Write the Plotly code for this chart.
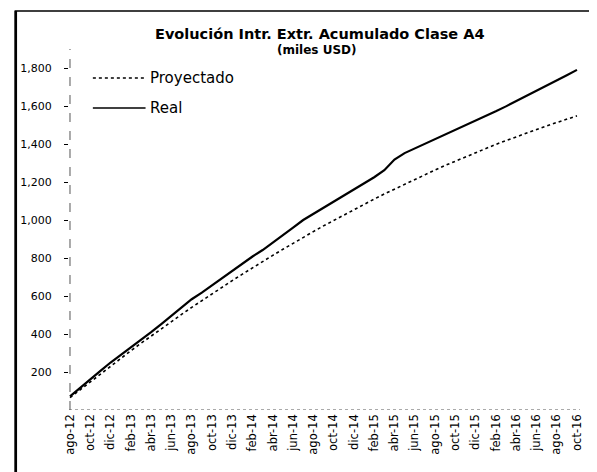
import plotly.graph_objects as go

# Months from ago-12 to oct-16 (51 monthly points)
month_names = ["ene", "feb", "mar", "abr", "may", "jun", "jul", "ago", "sep", "oct", "nov", "dic"]
months = []
m, y = 7, 12  # ago-12
for _ in range(51):
    months.append(f"{month_names[m]}-{y:02d}")
    m += 1
    if m == 12:
        m = 0
        y += 1

proyectado = [65, 107, 149, 191, 232, 272, 312, 351, 390, 428,
              466, 503, 540, 576, 611, 646, 681, 715, 749, 782,
              814, 846, 878, 909, 939, 969, 998, 1027, 1055, 1083,
              1110, 1137, 1163, 1189, 1214, 1239, 1263, 1287, 1310, 1333,
              1355, 1377, 1398, 1418, 1438, 1458, 1477, 1495, 1513, 1531,
              1548]

real = [72, 118, 162, 206, 250, 290, 328, 366, 410, 452,
        495, 540, 583, 618, 656, 694, 733, 772, 808, 842,
        880, 920, 960, 1000, 1032, 1065, 1098, 1130, 1163, 1195,
        1225, 1262, 1318, 1352, 1376, 1400, 1427, 1450, 1475, 1497,
        1522, 1548, 1572, 1598, 1625, 1650, 1678, 1705, 1732, 1762,
        1790]

y_ticks = [200, 400, 600, 800, 1000, 1200, 1400, 1600, 1800]
x_tick_idx = list(range(0, 51, 2))
x_tick_text = [months[i] for i in x_tick_idx]

title_line1 = "Evolución Intr. Extr. Acumulado Clase A4"
title_line2 = "(miles USD)"

idx = list(range(len(months)))

fig = go.Figure()
fig.add_trace(go.Scatter(x=idx, y=proyectado, mode="lines", name="Proyectado",
                         line=dict(color="black", width=1.6, dash="dot"), showlegend=False))
fig.add_trace(go.Scatter(x=idx, y=real, mode="lines", name="Real",
                         line=dict(color="black", width=2.2), showlegend=False))

OFF = 8  # page body margin
W, H = 597 - OFF, 472 - OFF
L, T = 66 - OFF, 49 - OFF
R, B = 17, 62
pw, ph = W - L - R, H - T - B

def px(x):
    # x given in screenshot pixels
    return (x - OFF - L) / pw

def py(yv):
    # y given in screenshot pixels
    return (H - B - (yv - OFF)) / ph

shapes = [
    # outer border
    dict(type="rect", xref="paper", yref="paper", x0=px(12), x1=px(596), y0=py(480), y1=py(11),
         line=dict(color="black", width=1.5), layer="above"),
    dict(type="line", xref="paper", yref="paper", x0=px(12.5), x1=px(12.5), y0=py(480), y1=py(11),
         line=dict(color="black", width=2.5), layer="above"),
    # y axis (dashed)
    dict(type="line", xref="paper", yref="paper", x0=px(67), x1=px(67), y0=0, y1=1,
         line=dict(color="#555555", width=1, dash="dash")),
    # x axis (dotted)
    dict(type="line", xref="paper", yref="y", x0=0, x1=1, y0=0, y1=0,
         line=dict(color="#555555", width=1, dash="dot")),
    # legend samples
    dict(type="line", xref="paper", yref="paper", x0=px(90), x1=px(143), y0=py(78), y1=py(78),
         line=dict(color="black", width=1.6, dash="dot")),
    dict(type="line", xref="paper", yref="paper", x0=px(90), x1=px(143), y0=py(108), y1=py(108),
         line=dict(color="black", width=1.6)),
]

annotations = [
    dict(text="<b>" + title_line1 + "</b>", xref="paper", yref="paper", x=px(318), y=py(34),
         xanchor="center", yanchor="middle", showarrow=False,
         font=dict(family="DejaVu Sans", size=14.5, color="black")),
    dict(text="<b>" + title_line2 + "</b>", xref="paper", yref="paper", x=px(315), y=py(50),
         xanchor="center", yanchor="middle", showarrow=False,
         font=dict(family="DejaVu Sans", size=12, color="black")),
    dict(text="Proyectado", xref="paper", yref="paper", x=px(145), y=py(78),
         xanchor="left", yanchor="middle", showarrow=False,
         font=dict(family="DejaVu Sans", size=15, color="black")),
    dict(text="Real", xref="paper", yref="paper", x=px(145), y=py(108),
         xanchor="left", yanchor="middle", showarrow=False,
         font=dict(family="DejaVu Sans", size=15, color="black")),
]

fig.update_layout(
    width=W, height=H,
    margin=dict(l=L, r=R, t=T, b=B, pad=0),
    paper_bgcolor="white", plot_bgcolor="white",
    font=dict(family="DejaVu Sans", color="black"),
    shapes=shapes, annotations=annotations,
    showlegend=False,
)
fig.update_xaxes(range=[-0.1, 50.3], tickvals=x_tick_idx, ticktext=x_tick_text,
                 tickangle=-90, showgrid=False, zeroline=False, showline=False,
                 ticks="", tickfont=dict(family="DejaVu Sans", size=11.5, color="black"),
                 ticklabelstandoff=1)
fig.update_yaxes(range=[0, 1900], tickvals=y_ticks, tickformat=",",
                 showgrid=False, zeroline=False, showline=False,
                 ticks="outside", ticklen=4, tickcolor="black", tickwidth=1,
                 tickfont=dict(family="DejaVu Sans", size=11, color="black"),
                 ticklabelstandoff=10)

fig.write_html("out.html")
